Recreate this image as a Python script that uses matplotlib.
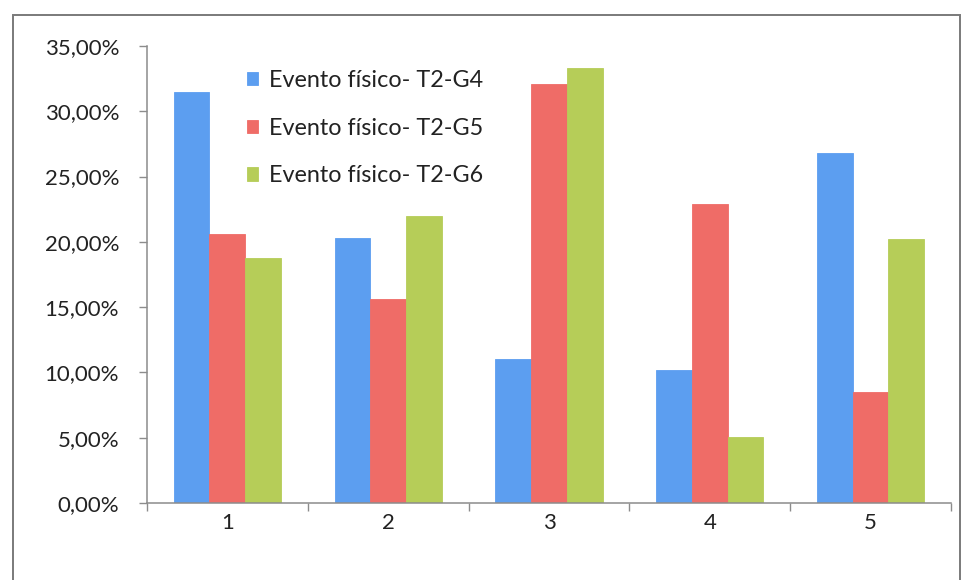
import numpy as np
import matplotlib
matplotlib.use("Agg")
from matplotlib import pyplot as plt
from matplotlib.patches import Rectangle
from matplotlib.ticker import FuncFormatter, FixedLocator

# Categories and series (percentages)
categories = ["1", "2", "3", "4", "5"]
series_names = ["Evento físico- T2-G4", "Evento físico- T2-G5", "Evento físico- T2-G6"]
g4 = [31.5, 20.3, 11.0, 10.2, 26.8]
g5 = [20.6, 15.6, 32.1, 22.9, 8.5]
g6 = [18.8, 22.0, 33.3, 5.05, 20.2]
colors = ["#5c9ef0", "#ef6c67", "#b6cd58"]

plt.rcParams['font.family'] = ['Lato', 'DejaVu Sans']

fig = plt.figure(figsize=(9.63, 5.80), dpi=100)
ax = fig.add_axes([0.1526, 0.1328, 0.8349, 0.7879])

# Excel-like clustered columns, gap width 150%
n = len(series_names)
bar_w = 1.0 / (n + 1.5)
x = np.arange(len(categories))
for i, (vals, col) in enumerate(zip([g4, g5, g6], colors)):
    offs = (i - (n - 1) / 2) * bar_w
    ax.bar(x + offs, vals, width=bar_w, color=col, label=series_names[i],
           edgecolor=col, linewidth=0.6, zorder=2)

ax.set_xlim(-0.5, len(categories) - 0.5)
ax.set_ylim(0, 35)
ax.set_yticks(np.arange(0, 36, 5))
ax.yaxis.set_major_formatter(FuncFormatter(lambda v, p: f"{v:.2f}%".replace(".", ",")))

# labels at category centres, tick marks on category boundaries
ax.set_xticks(x)
ax.set_xticklabels(categories)
ax.xaxis.set_minor_locator(FixedLocator(np.arange(-0.5, len(categories), 1.0)))
ax.tick_params(axis='x', which='major', length=0, pad=7, labelsize=16, colors="#222222")
ax.tick_params(axis='x', which='minor', length=6, width=1, color="#8c8c8c", direction='out')
ax.tick_params(axis='y', length=6, width=1, color="#8c8c8c", pad=14, labelsize=16,
               labelcolor="#222222")

for side in ("top", "right"):
    ax.spines[side].set_visible(False)
for side in ("left", "bottom"):
    ax.spines[side].set_color("#8c8c8c")
    ax.spines[side].set_linewidth(1.1)

leg = ax.legend(loc="upper left", bbox_to_anchor=(0.124, 0.948), frameon=False,
                fontsize=16.8, handlelength=0.5, handleheight=0.5, handletextpad=0.45,
                labelspacing=1.15, borderpad=0, borderaxespad=0)
for t in leg.get_texts():
    t.set_color("#222222")

# chart border
fig.patches.append(Rectangle((13 / 963, -0.05), (960 - 13) / 963, 1.05 - 15 / 580,
                             transform=fig.transFigure, fill=False,
                             edgecolor="#7a7a7a", linewidth=1.4))

fig.savefig("out.png", dpi=100)
